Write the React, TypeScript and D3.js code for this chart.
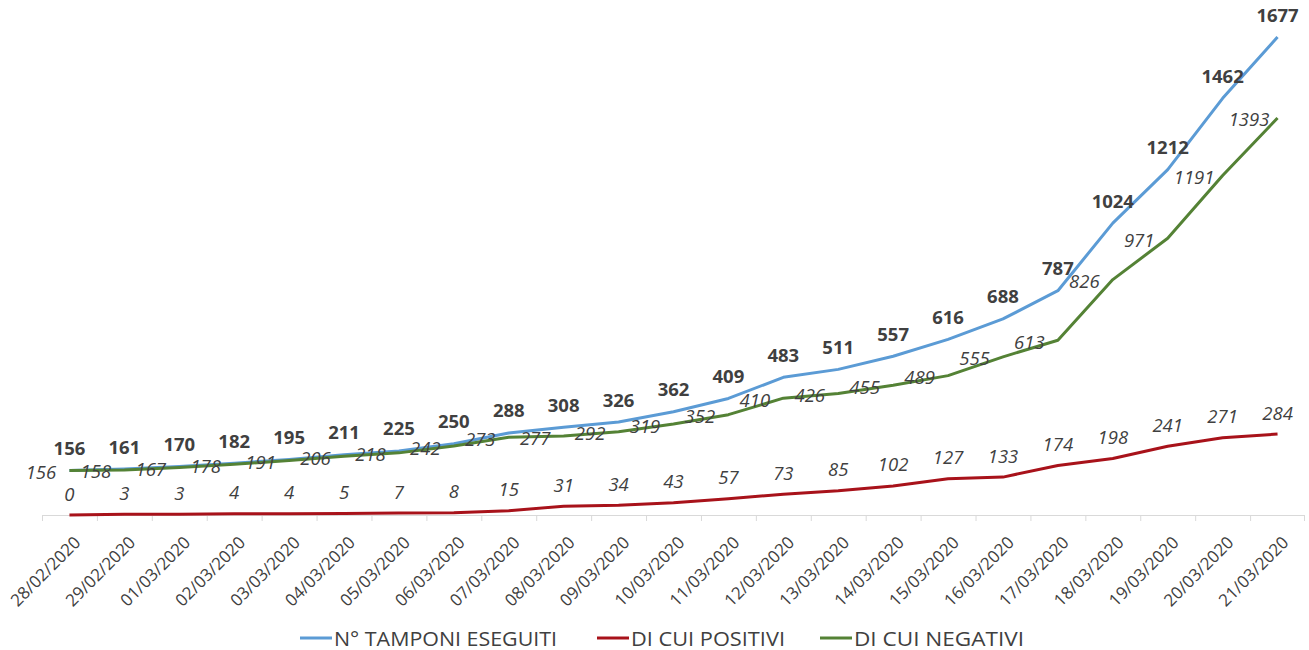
import React from "react";
import * as d3 from "d3";

const dates = [
  "28/02/2020", "29/02/2020", "01/03/2020", "02/03/2020", "03/03/2020", "04/03/2020",
  "05/03/2020", "06/03/2020", "07/03/2020", "08/03/2020", "09/03/2020", "10/03/2020",
  "11/03/2020", "12/03/2020", "13/03/2020", "14/03/2020", "15/03/2020", "16/03/2020",
  "17/03/2020", "18/03/2020", "19/03/2020", "20/03/2020", "21/03/2020",
];
const tamponi = [156, 161, 170, 182, 195, 211, 225, 250, 288, 308, 326, 362, 409, 483, 511, 557, 616, 688, 787, 1024, 1212, 1462, 1677];
const positivi = [0, 3, 3, 4, 4, 5, 7, 8, 15, 31, 34, 43, 57, 73, 85, 102, 127, 133, 174, 198, 241, 271, 284];
const negativi = [156, 158, 167, 178, 191, 206, 218, 242, 273, 277, 292, 319, 352, 410, 426, 455, 489, 555, 613, 826, 971, 1191, 1393];

const seriesNames = ["N° TAMPONI ESEGUITI", "DI CUI POSITIVI", "DI CUI NEGATIVI"];
const colors = ["#5B9BD5", "#A8121A", "#548235"];
const yMax = 1800;

export default function App() {
  const W = 1309, H = 650;
  const x = d3.scaleBand<string>().domain(dates).range([42, 1305]);
  const y = d3.scaleLinear().domain([0, yMax]).range([515, 2]);
  const cx = (d: string) => (x(d) as number) + x.bandwidth() / 2;
  const line = d3.line<number>().x((_, i) => cx(dates[i])).y((v) => y(v));
  const font = "'Open Sans', 'DejaVu Sans', sans-serif";
  const textCol = "#404040";
  const series = [tamponi, positivi, negativi];
  const legendX = [300, 597, 820];
  const legendW = [223, 154, 170];

  return (
    <svg width={W} height={H} style={{ position: "absolute", left: 0, top: 0, background: "#fff" }} fontFamily={font}>
      {/* axis */}
      <line x1={42} x2={1305} y1={515.5} y2={515.5} stroke="#d9d9d9" strokeWidth={1} />
      {dates.map((d) => (
        <line key={"t" + d} x1={(x(d) as number) + 0.5} x2={(x(d) as number) + 0.5} y1={515} y2={521} stroke="#d9d9d9" />
      ))}
      <line x1={1304.5} x2={1304.5} y1={515} y2={521} stroke="#d9d9d9" />
      {dates.map((d) => (
        <text key={"l" + d} transform={`translate(${cx(d) + 7.5},${539}) rotate(-45)`} textAnchor="end"
          fontSize={17} fill={textCol} dominantBaseline="central">{d}</text>
      ))}
      {/* lines */}
      {series.map((s, k) => (
        <path key={"p" + k} d={line(s) as string} fill="none" stroke={colors[k]} strokeWidth={3} strokeLinejoin="round" />
      ))}
      {/* labels */}
      {tamponi.map((v, i) => (
        <text key={"bt" + i} x={cx(dates[i])} y={y(v) - 23} textAnchor="middle" dominantBaseline="central"
          fontSize={18.5} fontWeight="bold" fill={textCol}>{v}</text>
      ))}
      {positivi.map((v, i) => (
        <text key={"rp" + i} x={cx(dates[i])} y={y(v) - 22} textAnchor="middle" dominantBaseline="central"
          fontSize={18.5} fontStyle="italic" fill={textCol}>{v}</text>
      ))}
      {negativi.map((v, i) => (
        <text key={"gn" + i} x={cx(dates[i]) - 28.5} y={y(v) + 1} textAnchor="middle" dominantBaseline="central"
          fontSize={18.5} fontStyle="italic" fill={textCol}>{v}</text>
      ))}
      {/* legend */}
      {seriesNames.map((n, k) => (
        <g key={"lg" + k} transform={`translate(${legendX[k]},638)`}>
          <line x1={0} x2={32} y1={0} y2={0} stroke={colors[k]} strokeWidth={3} />
          <text x={34} y={0} dominantBaseline="central" fontSize={20} fill={textCol}
            textLength={legendW[k]} lengthAdjust="spacingAndGlyphs">{n}</text>
        </g>
      ))}
    </svg>
  );
}
